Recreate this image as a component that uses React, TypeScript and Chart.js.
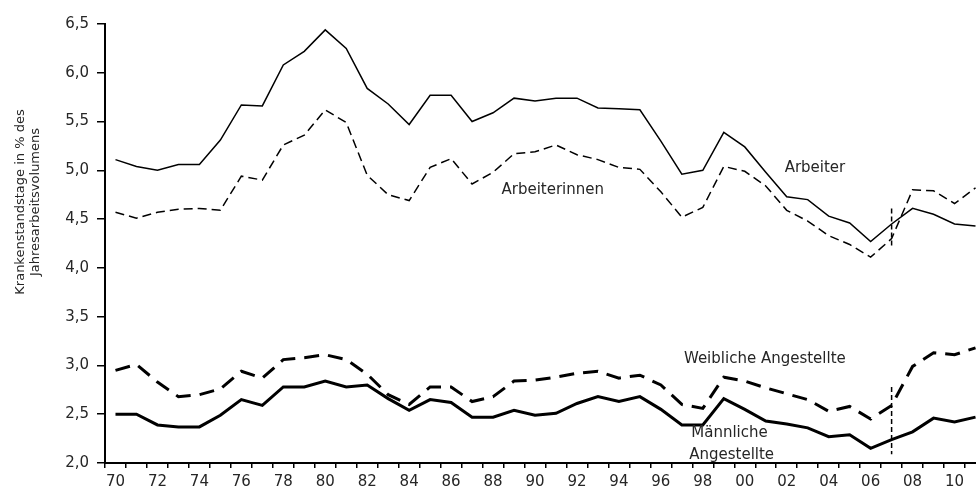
import React, { useEffect, useRef } from "react";
import { Chart, registerables } from "chart.js";

Chart.register(...registerables);

const years: string[] = [];
for (let y = 1970; y <= 2011; y++) years.push(String(y).slice(2));

const arbeiter = [5.11, 5.04, 5.0, 5.06, 5.06, 5.31, 5.67, 5.66, 6.08, 6.22, 6.44, 6.25, 5.84, 5.68,
  5.47, 5.77, 5.77, 5.5, 5.59, 5.74, 5.71, 5.74, 5.74, 5.64, 5.63, 5.62, 5.3,
  4.96, 5.0, 5.39, 5.24, 4.98, 4.73, 4.7, 4.53, 4.46, 4.27, 4.45, 4.61, 4.55, 4.45, 4.43];
const arbeiterinnen = [4.57, 4.51, 4.57, 4.6, 4.61, 4.59, 4.94, 4.9, 5.26, 5.36, 5.62, 5.49, 4.95, 4.75,
  4.69, 5.03, 5.12, 4.86, 4.98, 5.17, 5.19, 5.26, 5.16, 5.11, 5.03, 5.01, 4.78,
  4.52, 4.62, 5.04, 4.99, 4.84, 4.59, 4.48, 4.33, 4.24, 4.11, 4.3, 4.8, 4.79, 4.66, 4.82];
const weiblicheAngestellte = [2.95, 3.01, 2.83, 2.68, 2.7, 2.76, 2.94, 2.87, 3.06, 3.08, 3.11, 3.06, 2.91, 2.7,
  2.6, 2.78, 2.78, 2.63, 2.68, 2.84, 2.85, 2.88, 2.92, 2.94, 2.87, 2.9, 2.8,
  2.6, 2.56, 2.88, 2.84, 2.77, 2.71, 2.65, 2.53, 2.58, 2.45, 2.59, 2.99, 3.13, 3.11, 3.18];
const maennlicheAngestellte = [2.5, 2.5, 2.39, 2.37, 2.37, 2.49, 2.65, 2.59, 2.78, 2.78, 2.84, 2.78, 2.8, 2.66,
  2.54, 2.65, 2.62, 2.47, 2.47, 2.54, 2.49, 2.51, 2.61, 2.68, 2.63, 2.68, 2.55,
  2.39, 2.39, 2.66, 2.55, 2.43, 2.4, 2.36, 2.27, 2.29, 2.15, 2.24, 2.32, 2.46, 2.42, 2.47];

const breakIndex = 37; // 2007
const upperBreak = [4.61, 4.2];
const lowerBreak = [2.78, 2.09];

const yMin = 2.0;
const yMax = 6.5;
const yStep = 0.5;

// text labels: [text, category position, value]
const seriesLabels: [string, number, number][] = [
  ["Arbeiter", 31.9, 5.02],
  ["Arbeiterinnen", 18.4, 4.8],
  ["Weibliche Angestellte", 27.1, 3.07],
  ["Männliche", 27.45, 2.31],
  ["Angestellte", 27.35, 2.08],
];
const yTitle = ["Krankenstandstage in % des", "Jahresarbeitsvolumens"];

const FONT = "'DejaVu Sans', sans-serif";

const annotationPlugin = {
  id: "annot",
  afterDatasetsDraw(chart: any) {
    const ctx = chart.ctx;
    const xs = chart.scales.x;
    const ys = chart.scales.y;
    const step = xs.getPixelForValue(1) - xs.getPixelForValue(0);
    ctx.save();
    ctx.strokeStyle = "#000";
    ctx.lineWidth = 1.5;
    ctx.setLineDash([5, 3]);
    const bx = xs.getPixelForValue(breakIndex);
    [upperBreak, lowerBreak].forEach((b) => {
      ctx.beginPath();
      ctx.moveTo(bx, ys.getPixelForValue(b[0]));
      ctx.lineTo(bx, ys.getPixelForValue(b[1]));
      ctx.stroke();
    });
    ctx.setLineDash([]);
    ctx.fillStyle = "#262626";
    ctx.font = `15px ${FONT}`;
    ctx.textAlign = "left";
    ctx.textBaseline = "middle";
    seriesLabels.forEach(([t, pos, v]) => {
      const x = xs.getPixelForValue(0) + pos * step;
      ctx.fillText(t, x, ys.getPixelForValue(v));
    });
    ctx.font = `13px ${FONT}`;
    ctx.textAlign = "center";
    const cy = 202;
    yTitle.forEach((t, i) => {
      ctx.save();
      ctx.translate(21 + i * 15, cy);
      ctx.rotate(-Math.PI / 2);
      ctx.fillText(t, 0, 0);
      ctx.restore();
    });
    ctx.restore();
  },
};

export default function App() {
  const ref = useRef<HTMLCanvasElement>(null);
  useEffect(() => {
    if (!ref.current) return;
    const chart = new Chart(ref.current, {
      type: "line",
      data: {
        labels: years,
        datasets: [
          { label: "Arbeiter", data: arbeiter, borderColor: "#000", borderWidth: 1.5, pointRadius: 0, tension: 0 },
          { label: "Arbeiterinnen", data: arbeiterinnen, borderColor: "#000", borderWidth: 1.5, borderDash: [9, 5], pointRadius: 0, tension: 0 },
          { label: "Weibliche Angestellte", data: weiblicheAngestellte, borderColor: "#000", borderWidth: 3, borderDash: [15, 9], pointRadius: 0, tension: 0 },
          { label: "Männliche Angestellte", data: maennlicheAngestellte, borderColor: "#000", borderWidth: 3, pointRadius: 0, tension: 0 },
        ],
      },
      options: {
        responsive: false,
        animation: false,
        layout: { padding: { top: 24, left: 0, right: 0, bottom: 0 } },
        plugins: { legend: { display: false }, tooltip: { enabled: false } },
        scales: {
          x: {
            type: "category",
            offset: true,
            grid: { display: true, drawOnChartArea: false, offset: true, tickLength: 5, color: "#000", lineWidth: 1.5 },
            border: { display: true, color: "#000", width: 2 },
            ticks: {
              autoSkip: false,
              maxRotation: 0,
              color: "#262626",
              font: { family: FONT, size: 15 },
              padding: 5,
              callback: (_v: any, i: number) => (i % 2 === 0 ? years[i] : ""),
            },
            afterFit: (s: any) => { s.height = 33; },
          },
          y: {
            min: yMin,
            max: yMax,
            grid: { display: true, drawOnChartArea: false, tickLength: 8, color: "#000", lineWidth: 1.5 },
            border: { display: true, color: "#000", width: 2 },
            ticks: {
              stepSize: yStep,
              color: "#262626",
              font: { family: FONT, size: 15 },
              padding: 8,
              callback: (v: any) => Number(v).toFixed(1).replace(".", ","),
            },
            afterFit: (s: any) => { s.width = 105; },
          },
        },
      },
      plugins: [annotationPlugin],
    });
    return () => chart.destroy();
  }, []);
  return (
    <div style={{ position: "fixed", left: 0, top: 0, width: 976, height: 496, overflow: "hidden", background: "#fff" }}>
      <canvas ref={ref} width={986} height={496} style={{ width: 986, height: 496, display: "block" }} />
    </div>
  );
}
